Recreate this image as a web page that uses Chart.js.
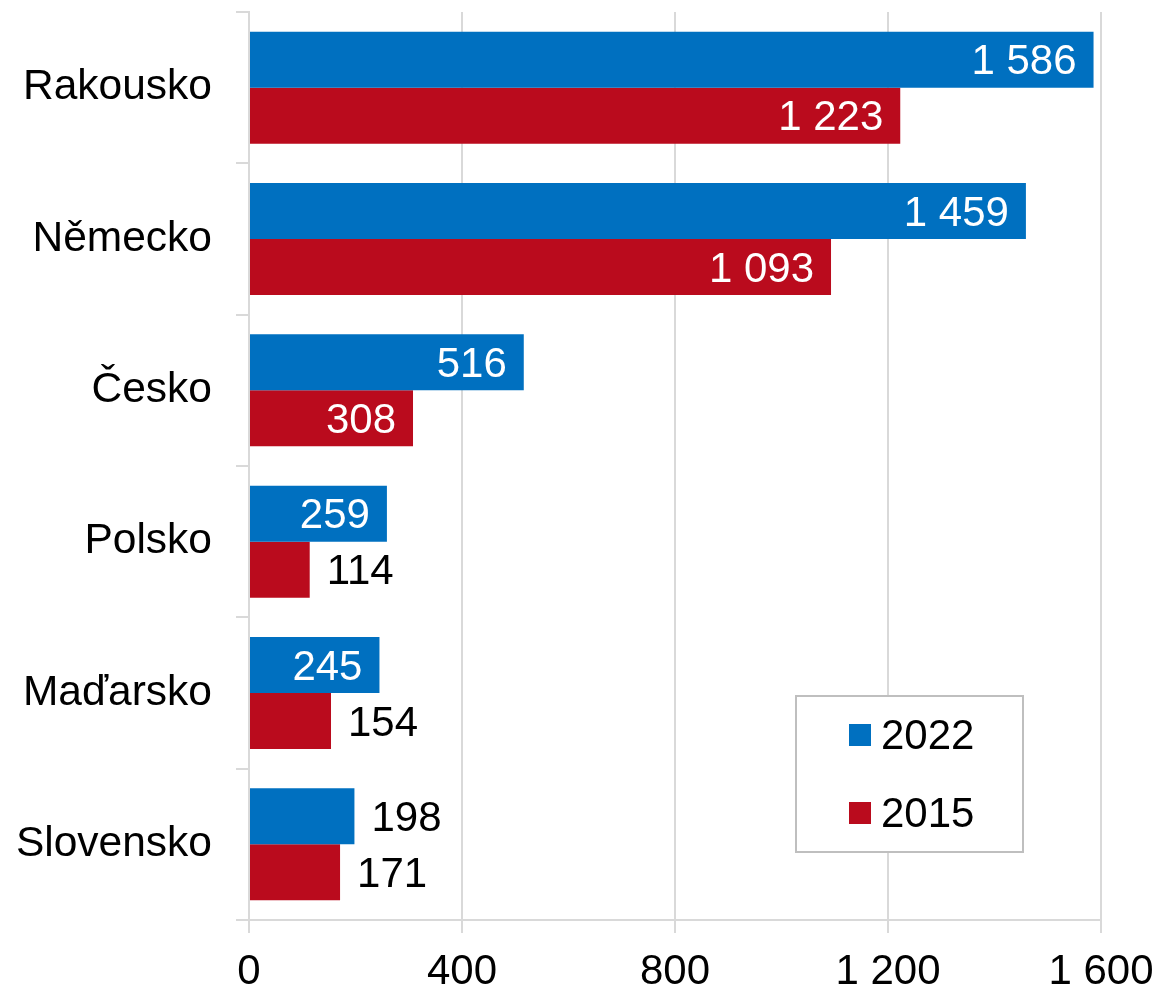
<!DOCTYPE html>
<html>
<head>
<meta charset="utf-8">
<script src="https://cdn.jsdelivr.net/npm/chart.js@4"></script>
<style>
  html, body { margin: 0; padding: 0; background: #fff; }
  #wrap { width: 1162px; height: 991px; }
</style>
</head>
<body>
<div id="wrap"><canvas id="chart" width="1162" height="991"></canvas></div>
<script>
// categories and values
const countries = ['Rakousko', 'Německo', 'Česko', 'Polsko', 'Maďarsko', 'Slovensko'];
const values2022 = [1586, 1459, 516, 259, 245, 198];
const values2015 = [1223, 1093, 308, 114, 154, 171];
const seriesNames = ['2022', '2015'];
const xTicks = [0, 400, 800, 1200, 1600];

const FONT = '"Liberation Sans", Arial, sans-serif';
const SIZE = 42;

function fmt(v) {
  return String(v).replace(/\B(?=(\d{3})+(?!\d))/g, ' ');
}

// labels: white inside the end of long bars, black just past short ones
const barLabels = {
  id: 'barLabels',
  afterDatasetsDraw(chart) {
    const ctx = chart.ctx;
    ctx.save();
    ctx.font = SIZE + 'px ' + FONT;
    ctx.textBaseline = 'middle';
    chart.data.datasets.forEach((ds, i) => {
      const meta = chart.getDatasetMeta(i);
      meta.data.forEach((bar, j) => {
        const v = ds.data[j];
        const txt = fmt(v);
        if (v >= 240) {
          ctx.fillStyle = '#ffffff';
          ctx.textAlign = 'right';
          ctx.fillText(txt, bar.x - 17, bar.y + 3);
        } else {
          ctx.fillStyle = '#000000';
          ctx.textAlign = 'left';
          ctx.fillText(txt, bar.x + 17, bar.y + 3);
        }
      });
    });
    ctx.restore();
  }
};

// boxed legend sitting in the lower right of the plot
const boxLegend = {
  id: 'boxLegend',
  afterDraw(chart) {
    const ctx = chart.ctx;
    const x0 = 796, y0 = 696, w = 227, h = 156;
    ctx.save();
    ctx.fillStyle = '#ffffff';
    ctx.fillRect(x0, y0, w, h);
    ctx.strokeStyle = '#BFBFBF';
    ctx.lineWidth = 2;
    ctx.strokeRect(x0, y0, w, h);
    ctx.font = SIZE + 'px ' + FONT;
    ctx.textBaseline = 'middle';
    ctx.textAlign = 'left';
    chart.data.datasets.forEach((ds, i) => {
      const cy = y0 + 39 + i * 78;
      ctx.fillStyle = ds.backgroundColor;
      ctx.fillRect(x0 + 53, cy - 11, 22, 22);
      ctx.fillStyle = '#000000';
      ctx.fillText(ds.label, x0 + 85, cy + 2);
    });
    ctx.restore();
  }
};

new Chart(document.getElementById('chart'), {
  type: 'bar',
  data: {
    labels: countries,
    datasets: [
      { label: seriesNames[0], data: values2022, backgroundColor: '#0070C0',
        categoryPercentage: 0.74, barPercentage: 1 },
      { label: seriesNames[1], data: values2015, backgroundColor: '#BA0B1D',
        categoryPercentage: 0.74, barPercentage: 1 }
    ]
  },
  options: {
    indexAxis: 'y',
    responsive: false,
    animation: false,
    layout: { padding: { top: 12, right: 61, bottom: 0, left: 0 } },
    plugins: {
      legend: { display: false },
      tooltip: { enabled: false }
    },
    scales: {
      x: {
        min: 0,
        max: 1600,
        afterBuildTicks(scale) { scale.ticks = xTicks.map(v => ({ value: v })); },
        afterFit(scale) { scale.height = 71; scale.paddingLeft = 0; scale.paddingRight = 0; },
        grid: { color: '#D9D9D9', lineWidth: 2, tickLength: 13 },
        border: { color: '#D9D9D9', width: 2 },
        ticks: {
          color: '#000',
          font: { family: FONT, size: SIZE },
          padding: 14,
          maxRotation: 0,
          callback: v => fmt(v)
        }
      },
      y: {
        afterFit(scale) { scale.width = 249; scale.paddingTop = 0; scale.paddingBottom = 0; },
        grid: { color: '#D9D9D9', lineWidth: 2, tickLength: 13, drawOnChartArea: false, offset: true },
        border: { color: '#D9D9D9', width: 2 },
        ticks: {
          color: '#000',
          font: { family: FONT, size: 42.5 },
          padding: 24
        }
      }
    }
  },
  plugins: [barLabels, boxLegend]
});
</script>
</body>
</html>
